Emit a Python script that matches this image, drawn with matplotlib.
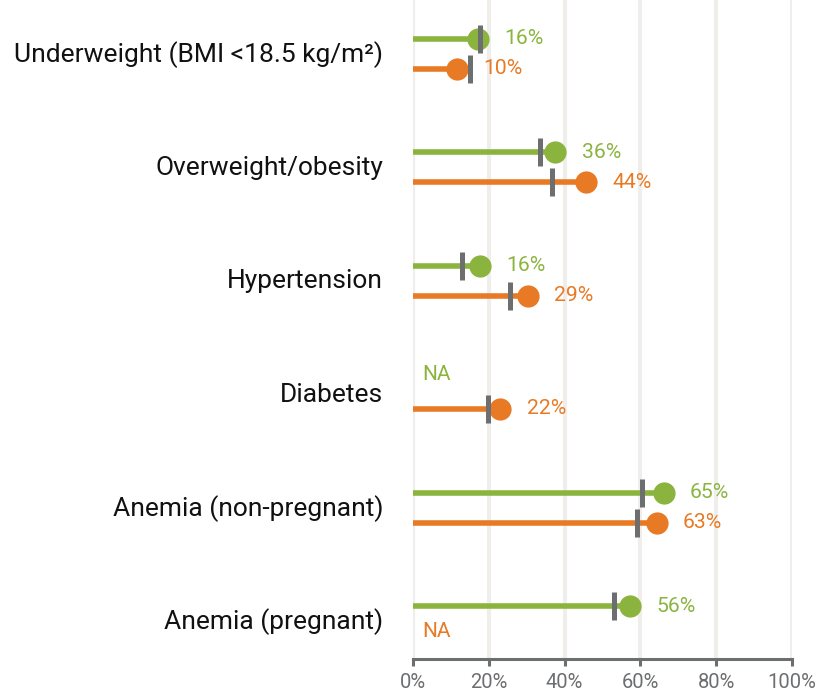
import matplotlib
matplotlib.use("Agg")
import matplotlib.pyplot as plt
import matplotlib.transforms as mtransforms
import numpy as np

plt.rcParams['font.family'] = ['Roboto', 'DejaVu Sans']

categories = ["Underweight (BMI <18.5 kg/m²)", "Overweight/obesity", "Hypertension",
              "Diabetes", "Anemia (non-pregnant)", "Anemia (pregnant)"]
green_vals = [17.1, 37.5, 17.7, None, 66.1, 57.3]
green_ref = [17.8, 33.5, 12.8, None, 60.5, 53.1]
green_labels = ["16%", "36%", "16%", "NA", "65%", "56%"]
orange_vals = [11.5, 45.6, 30.3, 23.0, 64.3, None]
orange_ref = [15.1, 36.6, 25.6, 19.9, 59.2, None]
orange_labels = ["10%", "44%", "29%", "22%", "63%", "NA"]
xticks = [0, 20, 40, 60, 80, 100]
xticklabels = ["0%", "20%", "40%", "60%", "80%", "100%"]

GREEN = "#8bb43f"
ORANGE = "#e87a25"
GREY = "#6d6e70"
GRID = "#f0eeea"

W, H = 829, 693
fig = plt.figure(figsize=(W / 100, H / 100), dpi=100)
ax_left, ax_right = 413, 792
ax_top, ax_bot = 0, 659
ax = fig.add_axes([ax_left / W, (H - ax_bot) / H, (ax_right - ax_left) / W, (ax_bot - ax_top) / H])

unit = 113.5
first_center = 53.5
ax.set_xlim(0, 100)
ax.set_ylim((ax_bot - first_center) / unit, (ax_top - first_center) / unit)

for x in xticks:
    ax.axvline(x, color=GRID, lw=2.9, zorder=0)

off = 15 / unit
for i in range(len(categories)):
    for vals, refs, labs, color, dy in [(green_vals, green_ref, green_labels, GREEN, -off),
                                        (orange_vals, orange_ref, orange_labels, ORANGE, off)]:
        y = i + dy
        v = vals[i]
        if v is None:
            ax.text(2.4, y - 0.04, labs[i], color=color, fontsize=15, ha='left', va='center', zorder=5)
            continue
        ax.plot([0, v], [y, y], color=color, lw=4, solid_capstyle='butt', zorder=2)
        ax.plot([v], [y], 'o', color=color, ms=16, mec='none', zorder=3)
        ax.plot([refs[i]], [y], '|', color=GREY, ms=20, mew=3.6, zorder=4)
        ax.annotate(labs[i], (v, y), xytext=(19, 0), textcoords='offset points',
                    color=color, fontsize=15.2, ha='left', va='center', zorder=5,
                    annotation_clip=False)

ax.set_yticks(range(len(categories)))
ax.set_yticklabels(categories, fontsize=19, color="#111111")
ax.tick_params(axis='y', length=0, pad=21.5)
shift = mtransforms.ScaledTranslation(0, 2 / 100, fig.dpi_scale_trans)
for lab in ax.get_yticklabels():
    lab.set_transform(lab.get_transform() + shift)

ax.set_xticks(xticks)
ax.set_xticklabels(xticklabels, fontsize=14.5, color=GREY)
ax.tick_params(axis='x', length=5, width=2.2, color=GREY, pad=5)

for s in ['top', 'right', 'left']:
    ax.spines[s].set_visible(False)
ax.spines['bottom'].set_color(GREY)
ax.spines['bottom'].set_linewidth(2.2)
ax.spines['bottom'].set_capstyle('projecting')

fig.savefig("out.png", dpi=100)
